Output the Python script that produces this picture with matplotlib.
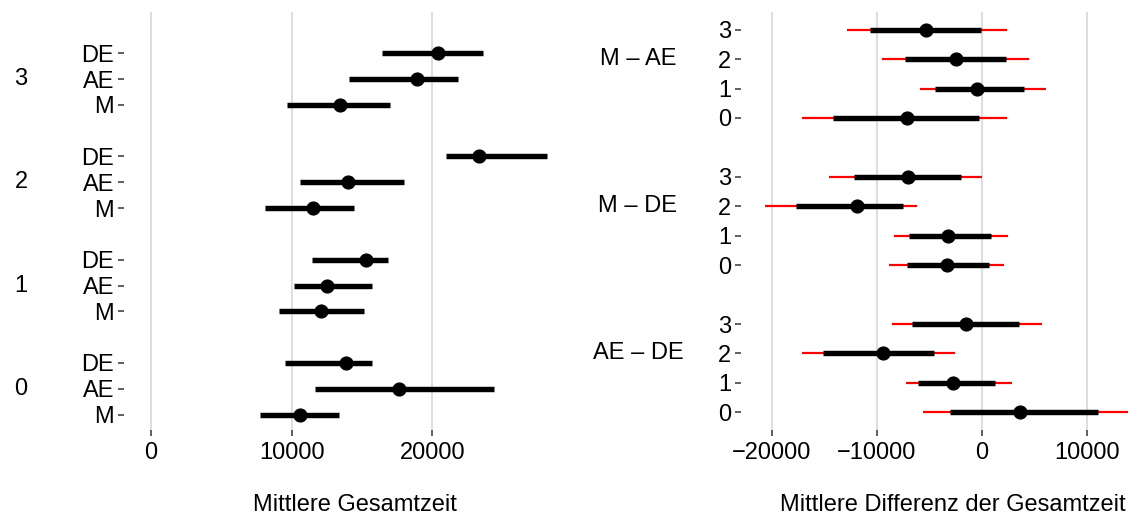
import matplotlib
matplotlib.use("Agg")
import matplotlib.pyplot as plt
import matplotlib.transforms as mtransforms

plt.rcParams["font.family"] = ["Liberation Sans", "DejaVu Sans"]

# ---- left panel: mean total time per group and condition ----
groups = ["0", "1", "2", "3"]
conditions = ["M", "AE", "DE"]
# rows follow groups, columns follow conditions (M, AE, DE)
mean_est = [[10590, 17620, 13880],
            [12090, 12530, 15270],
            [11520, 13980, 23300],
            [13460, 18910, 20440]]
mean_lo = [[7750, 11650, 9530],
           [9100, 10180, 11420],
           [8140, 10590, 20950],
           [9640, 14110, 16460]]
mean_hi = [[13360, 24420, 15740],
           [15170, 15680, 16850],
           [14440, 17960, 28130],
           [16980, 21810, 23640]]

# ---- right panel: mean differences between conditions ----
comparisons = ["AE \u2013 DE", "M \u2013 DE", "M \u2013 AE"]  # bottom to top
# rows follow comparisons, columns follow groups 0..3
diff_est = [[3690, -2690, -9410, -1450],
            [-3310, -3210, -11900, -6970],
            [-7070, -450, -2450, -5340]]
diff_lo50 = [[-3000, -6070, -15140, -6620],
             [-7140, -6930, -17690, -12140],
             [-14170, -4450, -7310, -10590]]
diff_hi50 = [[11100, 1310, -4520, 3550],
             [660, 930, -7480, -1930],
             [-240, 4000, 2340, -30]]
diff_lo95 = [[-5550, -7210, -17140, -8550],
             [-8790, -8340, -20640, -14550],
             [-17100, -5830, -9450, -12830]]
diff_hi95 = [[13920, 2900, -2520, 5720],
             [2100, 2520, -6140, 30],
             [2450, 6170, 4520, 2450]]

W, H = 1137, 521
fig = plt.figure(figsize=(W / 100, H / 100), dpi=100)

def px_axes(x0, x1, y_top, y_bot):
    return fig.add_axes([x0 / W, 1 - y_bot / H, (x1 - x0) / W, (y_bot - y_top) / H])

FS = 17
GRID = "#dedede"
TICKC = "#333333"

def style(ax):
    for s in ax.spines.values():
        s.set_visible(False)
    ax.grid(axis="x", color=GRID, linewidth=1.5)
    ax.set_axisbelow(True)
    ax.tick_params(axis="both", direction="out", length=4.5, width=1.1,
                   color=TICKC, labelsize=FS, labelcolor="black")
    ax.tick_params(axis="y", pad=2.5)
    ax.tick_params(axis="x", pad=4)

# left axes
axL = px_axes(124, 567, 12, 430)
style(axL)
yt, yl = [], []
for g, grp in enumerate(groups):
    for c, cond in enumerate(conditions):
        pos = 4 * g + c
        axL.plot([mean_lo[g][c], mean_hi[g][c]], [pos, pos], color="black",
                 linewidth=3.9, solid_capstyle="butt", zorder=3)
        axL.plot(mean_est[g][c], pos, "o", color="black", markersize=9.2, zorder=4)
        yt.append(pos)
        yl.append(cond)
axL.set_yticks(yt)
axL.set_yticklabels(yl)
axL.set_xlim(-1920, 29580)
axL.set_ylim(-0.6, 15.6)
axL.set_xticks([0, 10000, 20000])
axL.set_xticklabels(["0", "10000", "20000"])
axL.set_xlabel("Mittlere Gesamtzeit", fontsize=FS, labelpad=22)
axL.xaxis.label.set_x(0.522)
tL = mtransforms.blended_transform_factory(fig.transFigure, axL.transData)
for g, grp in enumerate(groups):
    axL.text(21 / W, 4 * g + 1, grp, transform=tL, ha="center", va="center",
             fontsize=FS, color="black")

# right axes
axR = px_axes(741, 1137, 12, 430)
style(axR)
yt, yl = [], []
for k, comp in enumerate(comparisons):
    for g, grp in enumerate(groups):
        pos = 5 * k + g
        axR.plot([diff_lo95[k][g], diff_hi95[k][g]], [pos, pos], color="red",
                 linewidth=1.6, solid_capstyle="butt", zorder=2)
        axR.plot([diff_lo50[k][g], diff_hi50[k][g]], [pos, pos], color="black",
                 linewidth=3.9, solid_capstyle="butt", zorder=3)
        axR.plot(diff_est[k][g], pos, "o", color="black", markersize=9.2, zorder=4)
        yt.append(pos)
        yl.append(grp)
axR.set_yticks(yt)
axR.set_yticklabels(yl)
axR.set_xlim(-22920, 14790)
axR.set_ylim(-0.6, 13.6)
axR.set_xticks([-20000, -10000, 0, 10000])
axR.set_xticklabels(["\u221220000", "\u221210000", "0", "10000"])
axR.set_xlabel("Mittlere Differenz der Gesamtzeit", fontsize=FS, labelpad=22)
axR.xaxis.label.set_x(0.535)
tR = mtransforms.blended_transform_factory(fig.transFigure, axR.transData)
for k, comp in enumerate(comparisons):
    axR.text(638 / W, 5 * k + 2, comp, transform=tR, ha="center", va="center",
             fontsize=FS, color="black")

fig.savefig("out.png", dpi=100)
